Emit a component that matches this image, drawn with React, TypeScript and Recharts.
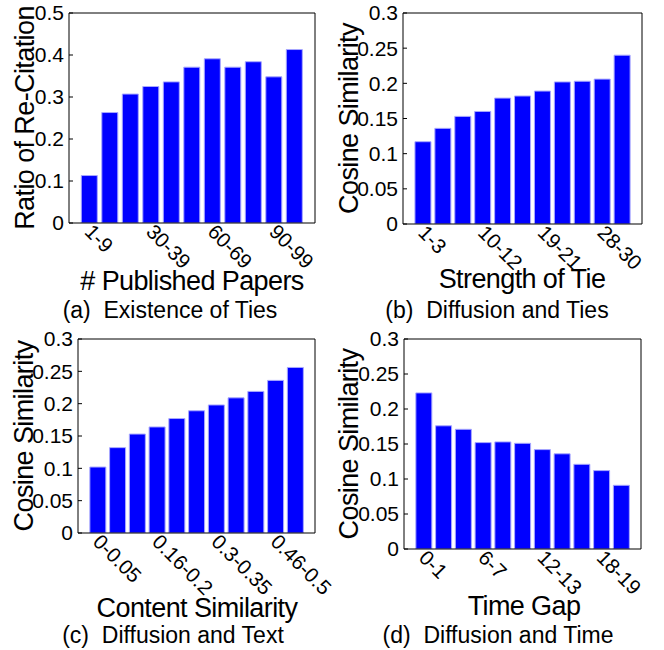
import React from "react";
import { BarChart, Bar, XAxis, YAxis } from "recharts";

// ---------- data ----------
const papersCats = ["1-9", "10-19", "20-29", "30-39", "40-49", "50-59", "60-69", "70-79", "80-89", "90-99", "100-109"];
const reCitationRatio = [0.113, 0.263, 0.307, 0.325, 0.336, 0.371, 0.391, 0.371, 0.384, 0.348, 0.413];

const tieCats = ["1-3", "4-6", "7-9", "10-12", "13-15", "16-18", "19-21", "22-24", "25-27", "28-30", "31-33"];
const tieSimilarity = [0.117, 0.136, 0.153, 0.16, 0.179, 0.182, 0.189, 0.202, 0.203, 0.206, 0.24];

const contentCats = ["0-0.05", "0.06-0.1", "0.11-0.15", "0.16-0.2", "0.21-0.25", "0.26-0.3", "0.3-0.35", "0.36-0.4", "0.41-0.45", "0.46-0.5", "0.51-0.55"];
const contentSimilarity = [0.102, 0.132, 0.153, 0.164, 0.177, 0.189, 0.198, 0.209, 0.219, 0.236, 0.256];

const gapCats = ["0-1", "2-3", "4-5", "6-7", "8-9", "10-11", "12-13", "14-15", "16-17", "18-19", "20-21"];
const gapSimilarity = [0.223, 0.176, 0.171, 0.152, 0.153, 0.151, 0.142, 0.136, 0.121, 0.112, 0.091];

const ratioTicks = [0, 0.1, 0.2, 0.3, 0.4, 0.5];
const cosineTicks = [0, 0.05, 0.1, 0.15, 0.2, 0.25, 0.3];

const yLabels = ["Ratio of Re-Citation", "Cosine Similarity", "Cosine Similarity", "Cosine Similarity"];
const xLabels = ["# Published Papers", "Strength of Tie", "Content Similarity", "Time Gap"];
const captionTags = ["(a)", "(b)", "(c)", "(d)"];
const captionTexts = ["Existence of Ties", "Diffusion and Ties", "Diffusion and Text", "Diffusion and Time"];

// ---------- layout ----------
const FONT = "'Liberation Sans', Arial, Helvetica, sans-serif";
const CHART_W = 344;
const CELL_H = 325;
const YAXIS_W = 40;
const XAXIS_H = 30;
const TICK_FS = 21;
const XTICK_FS = 20.5;

type PanelCfg = {
  cellX: number;
  cellY: number;
  plotL: number;
  plotT: number;
  plotR: number;
  plotB: number;
  cats: string[];
  values: number[];
  ticks: number[];
  yMax: number;
};

const panels: PanelCfg[] = [
  { cellX: 0, cellY: 0, plotL: 69, plotT: 13, plotR: 315, plotB: 223, cats: papersCats, values: reCitationRatio, ticks: ratioTicks, yMax: 0.5 },
  { cellX: 332, cellY: 0, plotL: 71, plotT: 13, plotR: 310, plotB: 224, cats: tieCats, values: tieSimilarity, ticks: cosineTicks, yMax: 0.3 },
  { cellX: 0, cellY: 325, plotL: 78, plotT: 14, plotR: 315, plotB: 208, cats: contentCats, values: contentSimilarity, ticks: cosineTicks, yMax: 0.3 },
  { cellX: 332, cellY: 325, plotL: 72, plotT: 14, plotR: 309, plotB: 224, cats: gapCats, values: gapSimilarity, ticks: cosineTicks, yMax: 0.3 },
];

// text positions (page coordinates)
const yLabelPos = [
  { x: 34, y: 118 },
  { x: 358, y: 118.5 },
  { x: 33, y: 436 },
  { x: 358, y: 444 },
];
const xLabelPos = [
  { x: 192, y: 290 },
  { x: 522, y: 288 },
  { x: 197, y: 617 },
  { x: 524, y: 615 },
];
const captionPos = [
  { x: 170, y: 318 },
  { x: 497, y: 318 },
  { x: 173, y: 643 },
  { x: 498, y: 643 },
];

function RotTick(props: any) {
  const { x, y, payload } = props;
  return (
    <g transform={`translate(${x - 6},${y + 10}) rotate(45)`}>
      <text x={0} y={0} textAnchor="start" fontSize={XTICK_FS} fontFamily={FONT} fill="#000">
        {payload.value}
      </text>
    </g>
  );
}

function Panel({ cfg }: { cfg: PanelCfg }) {
  const data = cfg.cats.map((c, i) => ({ cat: c, value: cfg.values[i] }));
  const plotW = cfg.plotR - cfg.plotL;
  const pad = plotW / 24;
  const margin = {
    left: cfg.plotL - YAXIS_W,
    top: cfg.plotT - 1,
    right: CHART_W - cfg.plotR - 1,
    bottom: CELL_H - cfg.plotB - XAXIS_H,
  };
  return (
    <div style={{ position: "absolute", left: cfg.cellX, top: cfg.cellY, width: CHART_W, height: CELL_H }}>
      <BarChart width={CHART_W} height={CELL_H} data={data} margin={margin} barCategoryGap="10%">
        <XAxis
          dataKey="cat"
          xAxisId="b"
          interval={2}
          padding={{ left: pad, right: pad }}
          height={XAXIS_H}
          tickLine={false}
          tickSize={0}
          tickMargin={0}
          axisLine={{ stroke: "#000", strokeWidth: 1 }}
          tick={<RotTick />}
        />
        <XAxis
          dataKey="cat"
          xAxisId="t"
          orientation="top"
          height={1}
          padding={{ left: pad, right: pad }}
          tick={false}
          tickLine={false}
          axisLine={{ stroke: "#000", strokeWidth: 1 }}
        />
        <YAxis
          yAxisId="l"
          type="number"
          width={YAXIS_W}
          domain={[0, cfg.yMax]}
          ticks={cfg.ticks}
          interval={0}
          tickSize={-4}
          tickMargin={9}
          tickLine={{ stroke: "#000" }}
          axisLine={{ stroke: "#000", strokeWidth: 1 }}
          tick={{ fontSize: TICK_FS, fill: "#000", fontFamily: FONT }}
          allowDataOverflow
        />
        <YAxis
          yAxisId="r"
          type="number"
          orientation="right"
          width={1}
          domain={[0, cfg.yMax]}
          ticks={cfg.ticks}
          interval={0}
          tickSize={-4}
          tick={false}
          tickLine={{ stroke: "#000" }}
          axisLine={{ stroke: "#000", strokeWidth: 1 }}
          allowDataOverflow
        />
        <Bar
          dataKey="value"
          xAxisId="b"
          yAxisId="l"
          fill="#0000ff"
          stroke="#a8a8ff"
          strokeWidth={1}
          isAnimationActive={false}
        />
      </BarChart>
    </div>
  );
}

export default function App() {
  return (
    <div style={{ position: "absolute", left: 0, top: 0, width: 664, height: 650, background: "#fff", overflow: "hidden" }}>
      {panels.map((p, i) => (
        <Panel key={i} cfg={p} />
      ))}
      <svg width={664} height={650} style={{ position: "absolute", left: 0, top: 0, pointerEvents: "none" }}>
        {yLabels.map((t, i) => (
          <text
            key={"y" + i}
            x={yLabelPos[i].x}
            y={yLabelPos[i].y}
            transform={`rotate(-90, ${yLabelPos[i].x}, ${yLabelPos[i].y})`}
            textAnchor="middle"
            fontSize={27}
            letterSpacing={-0.6}
            fontFamily={FONT}
            fill="#000"
          >
            {t}
          </text>
        ))}
        {xLabels.map((t, i) => (
          <text
            key={"x" + i}
            x={xLabelPos[i].x}
            y={xLabelPos[i].y}
            textAnchor="middle"
            fontSize={27}
            letterSpacing={-0.6}
            fontFamily={FONT}
            fill="#000"
          >
            {t}
          </text>
        ))}
        {captionTexts.map((t, i) => (
          <text
            key={"c" + i}
            x={captionPos[i].x}
            y={captionPos[i].y}
            textAnchor="middle"
            fontSize={23}
            fontFamily={FONT}
            fill="#000"
            style={{ whiteSpace: "pre" }}
          >
            {captionTags[i] + "  " + t}
          </text>
        ))}
      </svg>
    </div>
  );
}
